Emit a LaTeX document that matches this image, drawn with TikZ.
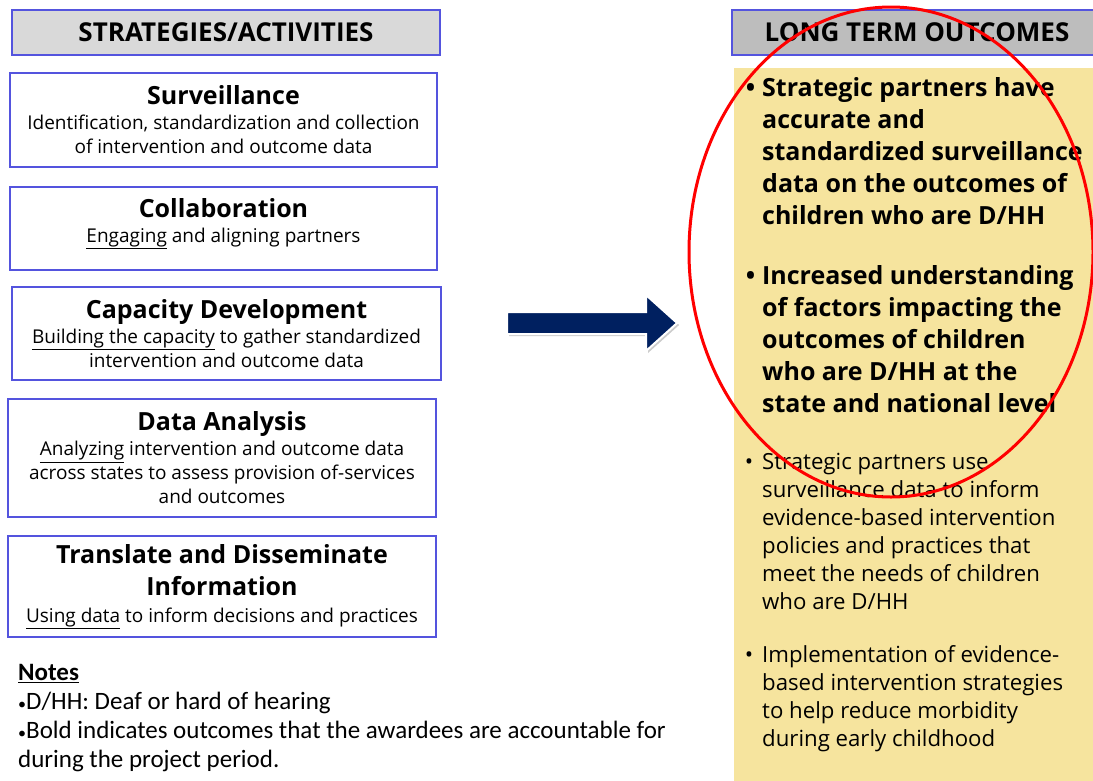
\documentclass[tikz,border=0pt]{standalone}
\usepackage{fontspec}
\setmainfont{Open Sans}
\newfontfamily\notefont{Carlito}
\usetikzlibrary{shapes.arrows,shadows}
\definecolor{boxblue}{RGB}{84,84,222}
\definecolor{headgray}{RGB}{217,217,217}
\definecolor{headgraydk}{RGB}{189,189,189}
\definecolor{outyellow}{RGB}{246,228,158}
\definecolor{arrownavy}{RGB}{0,32,96}

\begin{document}
\begin{tikzpicture}[x=1pt, y=-1pt,
	headbox/.style={draw=boxblue, line width=2pt, fill=headgray, inner sep=0pt, font=\fontsize{26}{30}\selectfont\bfseries},
	actbox/.style={draw=boxblue, line width=2pt, fill=white, inner sep=0pt, align=center, font=\fontsize{19}{24}\selectfont},
	outbold/.style={anchor=north west, align=left, inner sep=0pt, font=\fontsize{25}{32}\selectfont\bfseries},
	outtext/.style={anchor=north west, align=left, inner sep=0pt, font=\fontsize{22.2}{28}\selectfont},
	notetext/.style={anchor=north west, align=left, inner sep=0pt, font=\notefont\fontsize{25}{29}\selectfont}]
	\useasboundingbox (0,0) rectangle (1093,780);
	\fill[white] (0,0) rectangle (1093,780);

	% left column: strategies and activities
	\node[headbox, minimum width=428pt, minimum height=45pt] (acthead) at (226,32.5) {STRATEGIES/ACTIVITIES};
	\node[actbox, minimum width=427pt, minimum height=94pt] (surv) at (223.5,120) {{\fontsize{25}{30}\selectfont\bfseries Surveillance}\\[1pt]
		Identification, standardization and collection\\of intervention and outcome data};
	\node[actbox, minimum width=427pt, minimum height=83pt] (collab) at (223.5,228.5) {{\fontsize{25}{30}\selectfont\bfseries Collaboration}\\[1pt]
		\underline{Engaging} and aligning partners\rule[-16pt]{0pt}{16pt}};
	\node[actbox, minimum width=429pt, minimum height=93pt] (capdev) at (226.5,333.5) {{\fontsize{25}{30}\selectfont\bfseries Capacity Development}\\[1pt]
		\underline{Building the capacity} to gather standardized\\intervention and outcome data};
	\node[actbox, minimum width=428pt, minimum height=118pt] (analysis) at (222,458) {{\fontsize{25}{30}\selectfont\bfseries Data Analysis}\\[1pt]
		\underline{Analyzing} intervention and outcome data\\across states to assess provision of-services\\and outcomes};
	\node[actbox, minimum width=428pt, minimum height=101pt] (dissem) at (222,586.5) {{\fontsize{25}{30}\selectfont\bfseries Translate and Disseminate}\\[8pt]
		{\fontsize{25}{30}\selectfont\bfseries Information}\\[3pt]
		\underline{Using data} to inform decisions and practices};

	% notes
	\node[notetext] (notes) at (18,664) {\textbf{\underline{Notes}}\\
		{\fontsize{16}{16}\selectfont\textbullet}D/HH: Deaf or hard of hearing\\
		{\fontsize{16}{16}\selectfont\textbullet}Bold indicates outcomes that the awardees are accountable for\\
		during the project period.};

	% arrow
	\node[single arrow, fill=arrownavy, draw=white, line width=2pt, minimum height=170pt,
		inner xsep=0pt, inner ysep=10pt, single arrow head extend=17pt, single arrow tip angle=84,
		drop shadow={opacity=0.4, shadow xshift=2pt, shadow yshift=-2pt}] (arrow) at (586,323) {};

	% right column: long term outcomes
	\fill[outyellow] (734,68) rectangle (1100,790);
	\node[headbox, fill=headgraydk, minimum width=370pt, minimum height=45pt] (outhead) at (917,32.5) {LONG TERM OUTCOMES};
	\node[outbold] (out1) at (762,77) {\llap{\textbullet\hspace{7pt}}Strategic partners have\\accurate and\\standardized surveillance\\data on the outcomes of\\children who are D/HH};
	\node[outbold] (out2) at (762,265) {\llap{\textbullet\hspace{7pt}}Increased understanding\\of factors impacting the\\outcomes of children\\who are D/HH at the\\state and national level};
	\node[outtext] (out3) at (762,453) {\llap{\textbullet\hspace{9pt}}Strategic partners use\\surveillance data to inform\\evidence-based intervention\\policies and practices that\\meet the needs of children\\who are D/HH};
	\node[outtext] (out4) at (762,645) {\llap{\textbullet\hspace{9pt}}Implementation of evidence-\\based intervention strategies\\to help reduce morbidity\\during early childhood};

	% red circle round the accountable outcomes
	\draw[red, line width=3pt] (891,252) ellipse [x radius=202, y radius=245];
\end{tikzpicture}
\end{document}
